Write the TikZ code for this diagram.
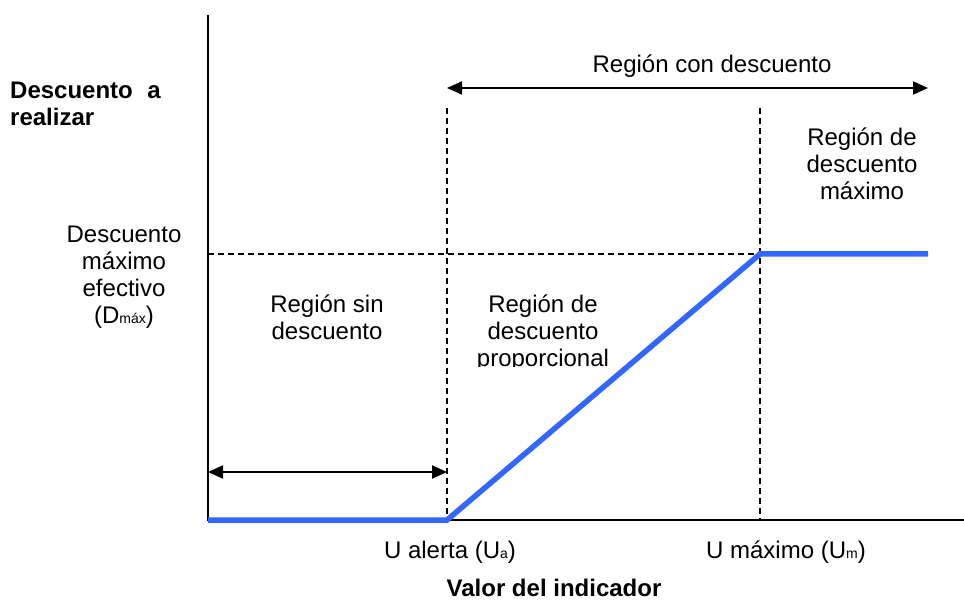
\documentclass[tikz,border=0pt]{standalone}
\usepackage{fontspec}
\setmainfont{Liberation Sans}
\usetikzlibrary{arrows.meta}
\tikzset{
  axisline/.style={line width=2pt, black},
  guide/.style={line width=1.2pt, dash pattern=on 6pt off 4pt, black},
  curve/.style={line width=5.5pt, color=curveblue, line join=miter},
  span/.style={line width=2pt, {Triangle[length=15pt,width=13pt]}-{Triangle[length=15pt,width=13pt]}},
  lbl/.style={font=\fontsize{24}{27}\selectfont, align=center, inner sep=0pt},
  boldlbl/.style={font=\fontsize{24}{27}\selectfont\bfseries, inner sep=0pt},
}
\definecolor{curveblue}{RGB}{51,102,255}
\newcommand{\subtxt}[1]{{\fontsize{14}{15}\selectfont #1}}
\begin{document}
\begin{tikzpicture}[x=1pt,y=-1pt]
\useasboundingbox (0,0) rectangle (964,601);
% key coordinates
\coordinate (O) at (208,520);
\coordinate (top) at (208,15);
\coordinate (xend) at (964,520);
\coordinate (A) at (447,520);
\coordinate (M) at (760,254);
\coordinate (E) at (928,254);
\coordinate (Dy) at (208,254);
\coordinate (Atop) at (447,108);
\coordinate (Mtop) at (760,108);
\coordinate (Mbot) at (760,520);
\coordinate (ArL) at (447,88);
\coordinate (ArR) at (928,88);
\coordinate (LoL) at (208,472);
\coordinate (LoR) at (447,472);
% guides
\draw[guide] (Atop) -- (A);
\draw[guide] (Mtop) -- (Mbot);
\draw[guide] (Dy) -- (M);
% axes
\draw[axisline] (top) -- (O) -- (xend);
% curve
\draw[curve] (O) -- (A) -- (M) -- (E);
% span arrows
\draw[span] (ArL) -- (ArR);
\draw[span] (LoL) -- (LoR);
% labels
\node[lbl] (rcd) at (712,66) {Región con descuento};
\node[boldlbl, anchor=west] (dar1) at (10,90) {Descuento\hspace{0.6em}a};
\node[boldlbl, anchor=west] (dar2) at (10,117) {realizar};
\node[lbl] (rdm) at (862,164) {Región de\\descuento\\máximo};
\node[lbl] (dme) at (124,277) {Descuento\\máximo\\efectivo\\(D\subtxt{máx})};
\node[lbl] (rsd) at (327,317) {Región sin\\descuento};
\begin{scope}
\clip (460,280) rectangle (640,367);
\node[lbl] (rdp) at (543,333) {Región de\\descuento\\proporcional};
\end{scope}
\node[lbl] (ua) at (450,552) {U alerta (U\subtxt{a})};
\node[lbl] (um) at (786,552) {U máximo (U\subtxt{m})};
\node[boldlbl] (vdi) at (554,588) {Valor del indicador};
\end{tikzpicture}
\end{document}
